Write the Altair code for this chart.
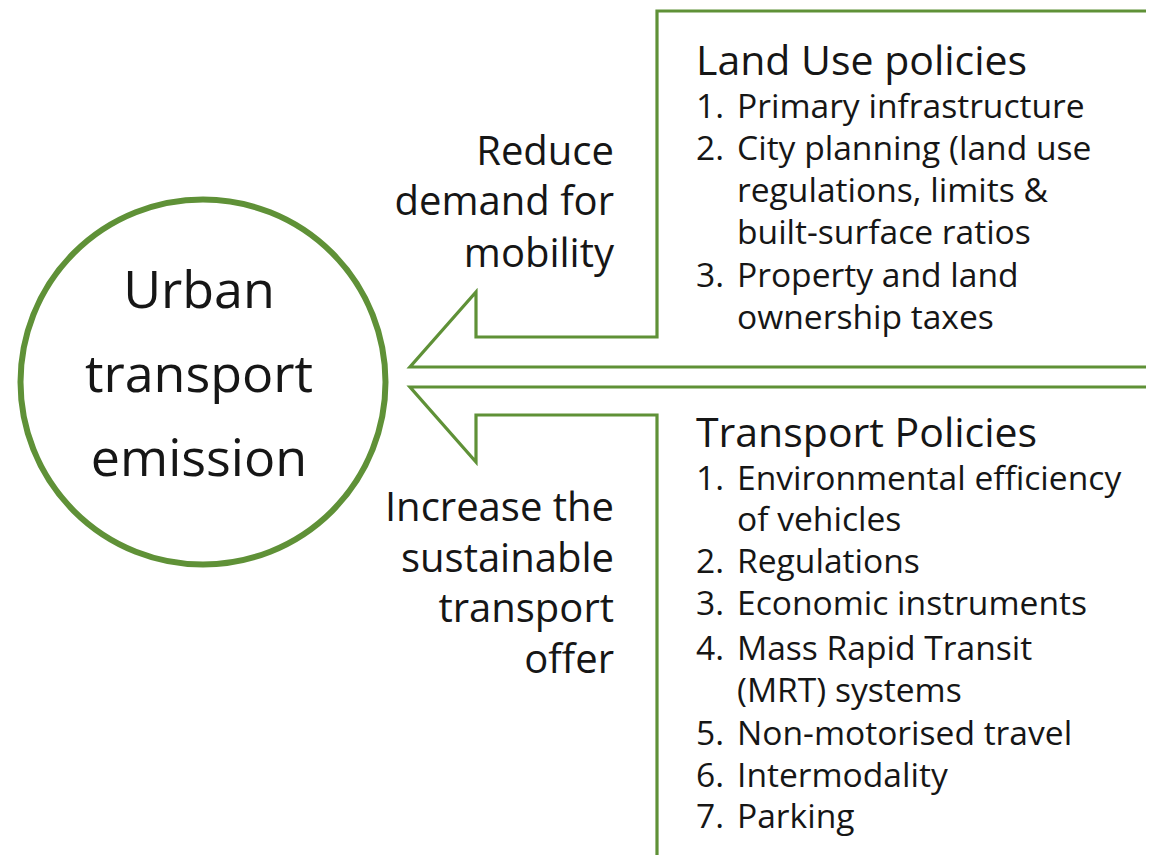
import altair as alt
import pandas as pd

GREEN = "#5f9137"
INK = "#161616"
FONT = "Open Sans"

# ---- diagram outline data (page pixel coordinates) ----
upper_arrow_x = [1154, 657, 657, 476, 476, 410, 1154]
upper_arrow_y = [11, 11, 337, 337, 292, 367, 367]
lower_arrow_x = [1154, 410, 476, 476, 657, 657]
lower_arrow_y = [387, 387, 462, 415, 415, 863]

circle_x = [203]
circle_y = [382]

# ---- text content ----
center_lines = ["Urban", "transport", "emission"]
center_base = [308, 392, 476]

reduce_lines = ["Reduce", "demand for", "mobility"]
reduce_base = [165, 215, 267]

increase_lines = ["Increase the", "sustainable", "transport", "offer"]
increase_base = [521, 572, 622, 673]

titles = ["Land Use policies", "Transport Policies"]
title_base = [75, 447]

land_nums = ["1.", "2.", "", "", "3.", ""]
land_items = ["Primary infrastructure", "City planning (land use",
              "regulations, limits &", "built-surface ratios",
              "Property and land", "ownership taxes"]
land_base = [118, 160, 202, 244, 287, 329]

tr_nums = ["1.", "", "2.", "3.", "4.", "", "5.", "6.", "7."]
tr_items = ["Environmental efficiency", "of vehicles", "Regulations",
            "Economic instruments", "Mass Rapid Transit", "(MRT) systems",
            "Non-motorised travel", "Intermodality", "Parking"]
tr_base = [490, 531, 573, 615, 660, 702, 745, 787, 828]

XS = alt.Scale(domain=[8, 1146], nice=False, zero=False)
YS = alt.Scale(domain=[855, 8], nice=False, zero=False)


def enc(**kw):
    return dict(x=alt.X("x:Q", scale=XS, axis=None),
                y=alt.Y("y:Q", scale=YS, axis=None), **kw)


rows = []
for i, (x, y) in enumerate(zip(upper_arrow_x, upper_arrow_y)):
    rows.append({"shape": "upper", "order": i, "x": x, "y": y})
for i, (x, y) in enumerate(zip(lower_arrow_x, lower_arrow_y)):
    rows.append({"shape": "lower", "order": i, "x": x, "y": y})
shapes = pd.DataFrame(rows)

outline = alt.Chart(shapes).mark_line(
    color=GREEN, strokeWidth=3.2, strokeJoin="miter", clip=True
).encode(**enc(detail="shape:N", order="order:Q"))

circle = alt.Chart(pd.DataFrame({"x": circle_x, "y": circle_y})).mark_point(
    shape="circle", filled=False, size=365 * 365, strokeWidth=6,
    color=GREEN, opacity=1
).encode(**enc())


def text_layer(lines, xs, ys, size, align):
    df = pd.DataFrame({"t": lines, "x": xs, "y": ys})
    df = df[df["t"] != ""]
    return alt.Chart(df).mark_text(
        font=FONT, fontSize=size, align=align, baseline="alphabetic",
        color=INK
    ).encode(**enc(text="t:N"))


center_txt = text_layer(center_lines, [199] * 3, center_base, 52, "center")
reduce_txt = text_layer(reduce_lines, [614] * 3, reduce_base, 40, "right")
incr_txt = text_layer(increase_lines, [614] * 4, increase_base, 40, "right")
title_txt = text_layer(titles, [696] * 2, title_base, 41, "left")
land_num_txt = text_layer(land_nums, [696] * 6, land_base, 33.6, "left")
land_txt = text_layer(land_items, [737] * 6, land_base, 33.6, "left")
tr_num_txt = text_layer(tr_nums, [696] * 9, tr_base, 33.6, "left")
tr_txt = text_layer(tr_items, [737] * 9, tr_base, 33.6, "left")

chart = alt.layer(
    outline, circle, center_txt, reduce_txt, incr_txt, title_txt,
    land_num_txt, land_txt, tr_num_txt, tr_txt
).properties(
    width=1138, height=847, padding=0, background="white"
).configure_view(strokeWidth=0)

chart.save("out.html", embed_options={"renderer": "svg", "actions": False})
